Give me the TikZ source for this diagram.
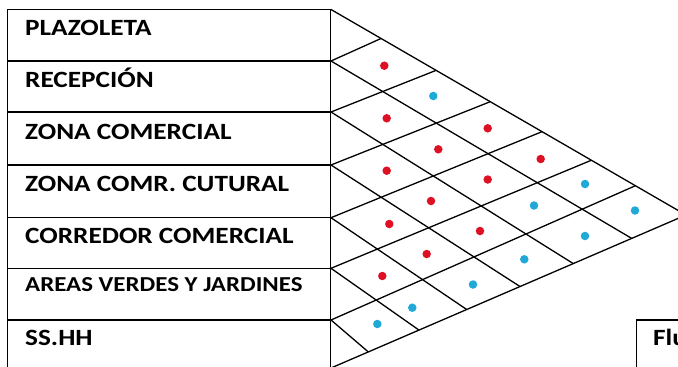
\documentclass[tikz,border=0pt]{standalone}
\usepackage{fontspec}
\setmainfont{Carlito}
\usepackage{graphicx}
\definecolor{dotred}{RGB}{222,16,36}
\definecolor{dotblue}{RGB}{32,168,214}
\newcommand{\widetxt}[1]{\scalebox{1.17}[1]{#1}}
\begin{document}
\begin{tikzpicture}[x=1pt,y=-1pt,
  gridline/.style={line width=1.3pt, black},
  tbl/.style={line width=1.4pt, black},
  lbl/.style={anchor=base west, inner sep=0pt, font=\fontsize{23.3}{28}\selectfont\bfseries},
  lblsmall/.style={anchor=base west, inner sep=0pt, font=\fontsize{21.3}{26}\selectfont\bfseries},
  reddot/.style={circle, fill=dotred, inner sep=0pt, minimum size=8.5pt},
  bluedot/.style={circle, fill=dotblue, inner sep=0pt, minimum size=8.5pt}]
\useasboundingbox (0,0) rectangle (678,367);
\clip (0,0) rectangle (678,367);

% table corners and row boundaries
\coordinate (TL) at (7.5,9.5);
\coordinate (BR) at (330.5,368);
\foreach \i/\y in {0/9.5,1/61,2/112,3/165,4/217.7,5/268.3,6/320,7/368}{
  \coordinate (R\i) at (7.5,\y);
  \coordinate (L\i) at (331,\y);
}
% apex and edge vertices
\coordinate (A) at (686,215);
\coordinate (T1) at (381,38.5);
\coordinate (T2) at (436,70.4);
\coordinate (T3) at (490,101.8);
\coordinate (T4) at (541.7,131.8);
\coordinate (T5) at (591,160.4);
\coordinate (T6) at (635,185.9);
\coordinate (B1) at (631.7,238.4);
\coordinate (B2) at (573.3,263.6);
\coordinate (B3) at (520,286.5);
\coordinate (B4) at (466.7,309.5);
\coordinate (B5) at (419,330.1);
\coordinate (B6) at (368.3,351.9);

% table
\draw[tbl] (TL) rectangle (BR);
\foreach \i in {1,...,6}{\draw[tbl] (R\i) -- (L\i);}

% triangular matrix
\draw[gridline] (L0) -- (A) -- (L7);
\foreach \i in {1,...,6}{
  \draw[gridline] (L\i) -- (T\i);
  \draw[gridline] (L\i) -- (B\i);
}

% labels
\node[lbl] (r1) at (25,35.7) {\widetxt{PLAZOLETA}};
\node[lbl] (r2) at (25,87.3) {\widetxt{RECEPCIÓN}};
\node[lbl] (r3) at (25,139.3) {\widetxt{ZONA COMERCIAL}};
\node[lbl] (r4) at (25,191.7) {\widetxt{ZONA COMR. CUTURAL}};
\node[lbl] (r5) at (25,243.3) {\widetxt{CORREDOR COMERCIAL}};
\node[lblsmall] (r6) at (25,291.7) {\widetxt{AREAS VERDES Y JARDINES}};
\node[lbl] (r7) at (25,345.7) {\widetxt{SS.HH}};

% dots
\node[reddot]  (d12) at (384.3,65.7) {};
\node[bluedot] (d13) at (433.3,96) {};
\node[reddot]  (d23) at (386.7,118.3) {};
\node[reddot]  (d14) at (487.7,128.3) {};
\node[reddot]  (d24) at (438.3,149.3) {};
\node[reddot]  (d34) at (386.7,170.7) {};
\node[reddot]  (d15) at (540.7,159) {};
\node[reddot]  (d25) at (487.7,179.5) {};
\node[reddot]  (d35) at (431,201) {};
\node[reddot]  (d45) at (389.3,224) {};
\node[bluedot] (d16) at (585,184) {};
\node[bluedot] (d26) at (534,205.5) {};
\node[reddot]  (d36) at (480,231) {};
\node[reddot]  (d46) at (426.7,254) {};
\node[reddot]  (d56) at (382.3,276) {};
\node[bluedot] (d17) at (635,210.5) {};
\node[bluedot] (d27) at (585,236) {};
\node[bluedot] (d37) at (524.3,259.3) {};
\node[bluedot] (d47) at (473,284.5) {};
\node[bluedot] (d57) at (412.3,307.7) {};
\node[bluedot] (d67) at (377.3,324) {};

% box at lower right, cut off by the picture's edge as in the reference
\coordinate (FTL) at (636.7,320);
\coordinate (FBR) at (720,400);
\draw[tbl] (FTL) rectangle (FBR);
\node[lbl] (flu) at (653,345) {\widetxt{Flu}};
\end{tikzpicture}
\end{document}
